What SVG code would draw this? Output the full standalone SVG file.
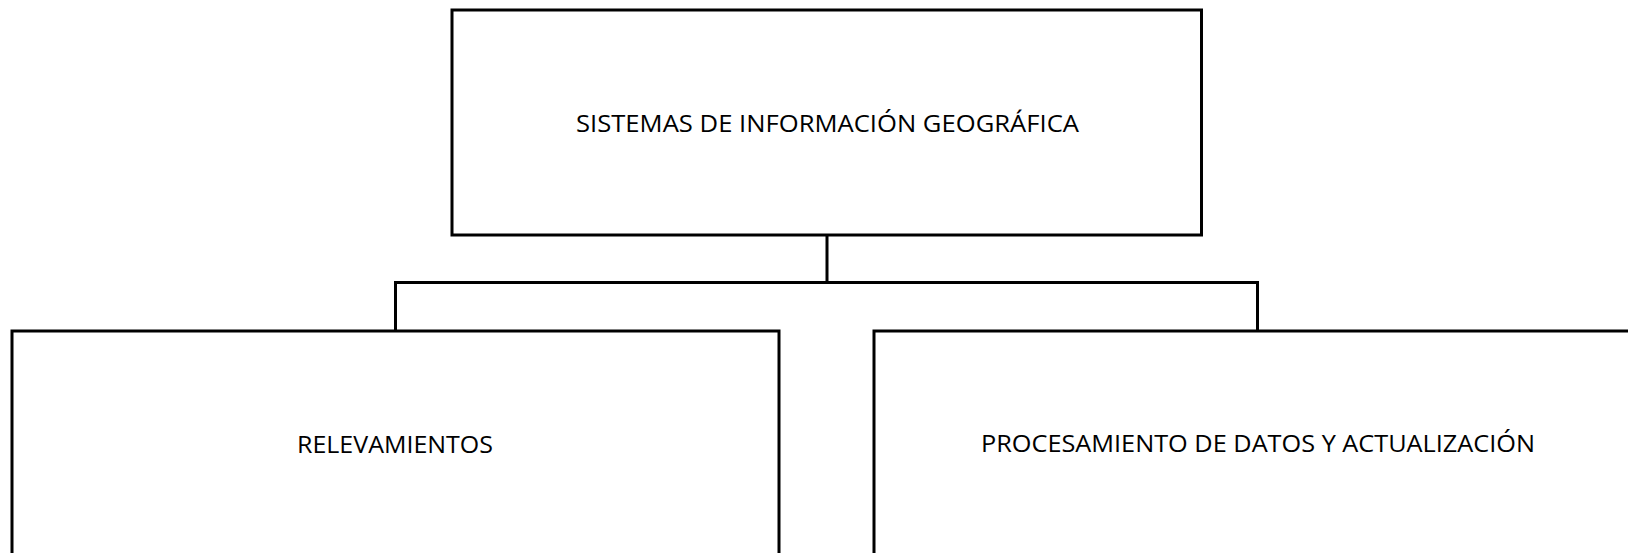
<svg xmlns="http://www.w3.org/2000/svg" width="1628" height="553" viewBox="0 0 1628 553">
<style>
.box{fill:#fff;stroke:#000;stroke-width:3}
.conn{fill:none;stroke:#000;stroke-width:3}
.lbl{font-family:"Open Sans","Liberation Sans",sans-serif;font-size:23.5px;fill:#000;text-anchor:middle}
</style>
<rect width="1628" height="553" fill="#fff"/>
<g id="connectors">
<path class="conn" d="M827 235 V282.5 M395.5 331 V282.5 H1257.5 V331"/>
</g>
<g id="node-sig">
<rect class="box" x="452" y="10" width="749.5" height="225"/>
<text class="lbl" x="827.5" y="131.7" textLength="503" lengthAdjust="spacingAndGlyphs">SISTEMAS DE INFORMACIÓN GEOGRÁFICA</text>
</g>
<g id="node-relevamientos">
<rect class="box" x="12" y="331" width="767" height="240"/>
<text class="lbl" x="395" y="452.5" textLength="196" lengthAdjust="spacingAndGlyphs">RELEVAMIENTOS</text>
</g>
<g id="node-procesamiento">
<rect class="box" x="874" y="331" width="768" height="240"/>
<text class="lbl" x="1258" y="452" textLength="554" lengthAdjust="spacingAndGlyphs">PROCESAMIENTO DE DATOS Y ACTUALIZACIÓN</text>
</g>
</svg>
